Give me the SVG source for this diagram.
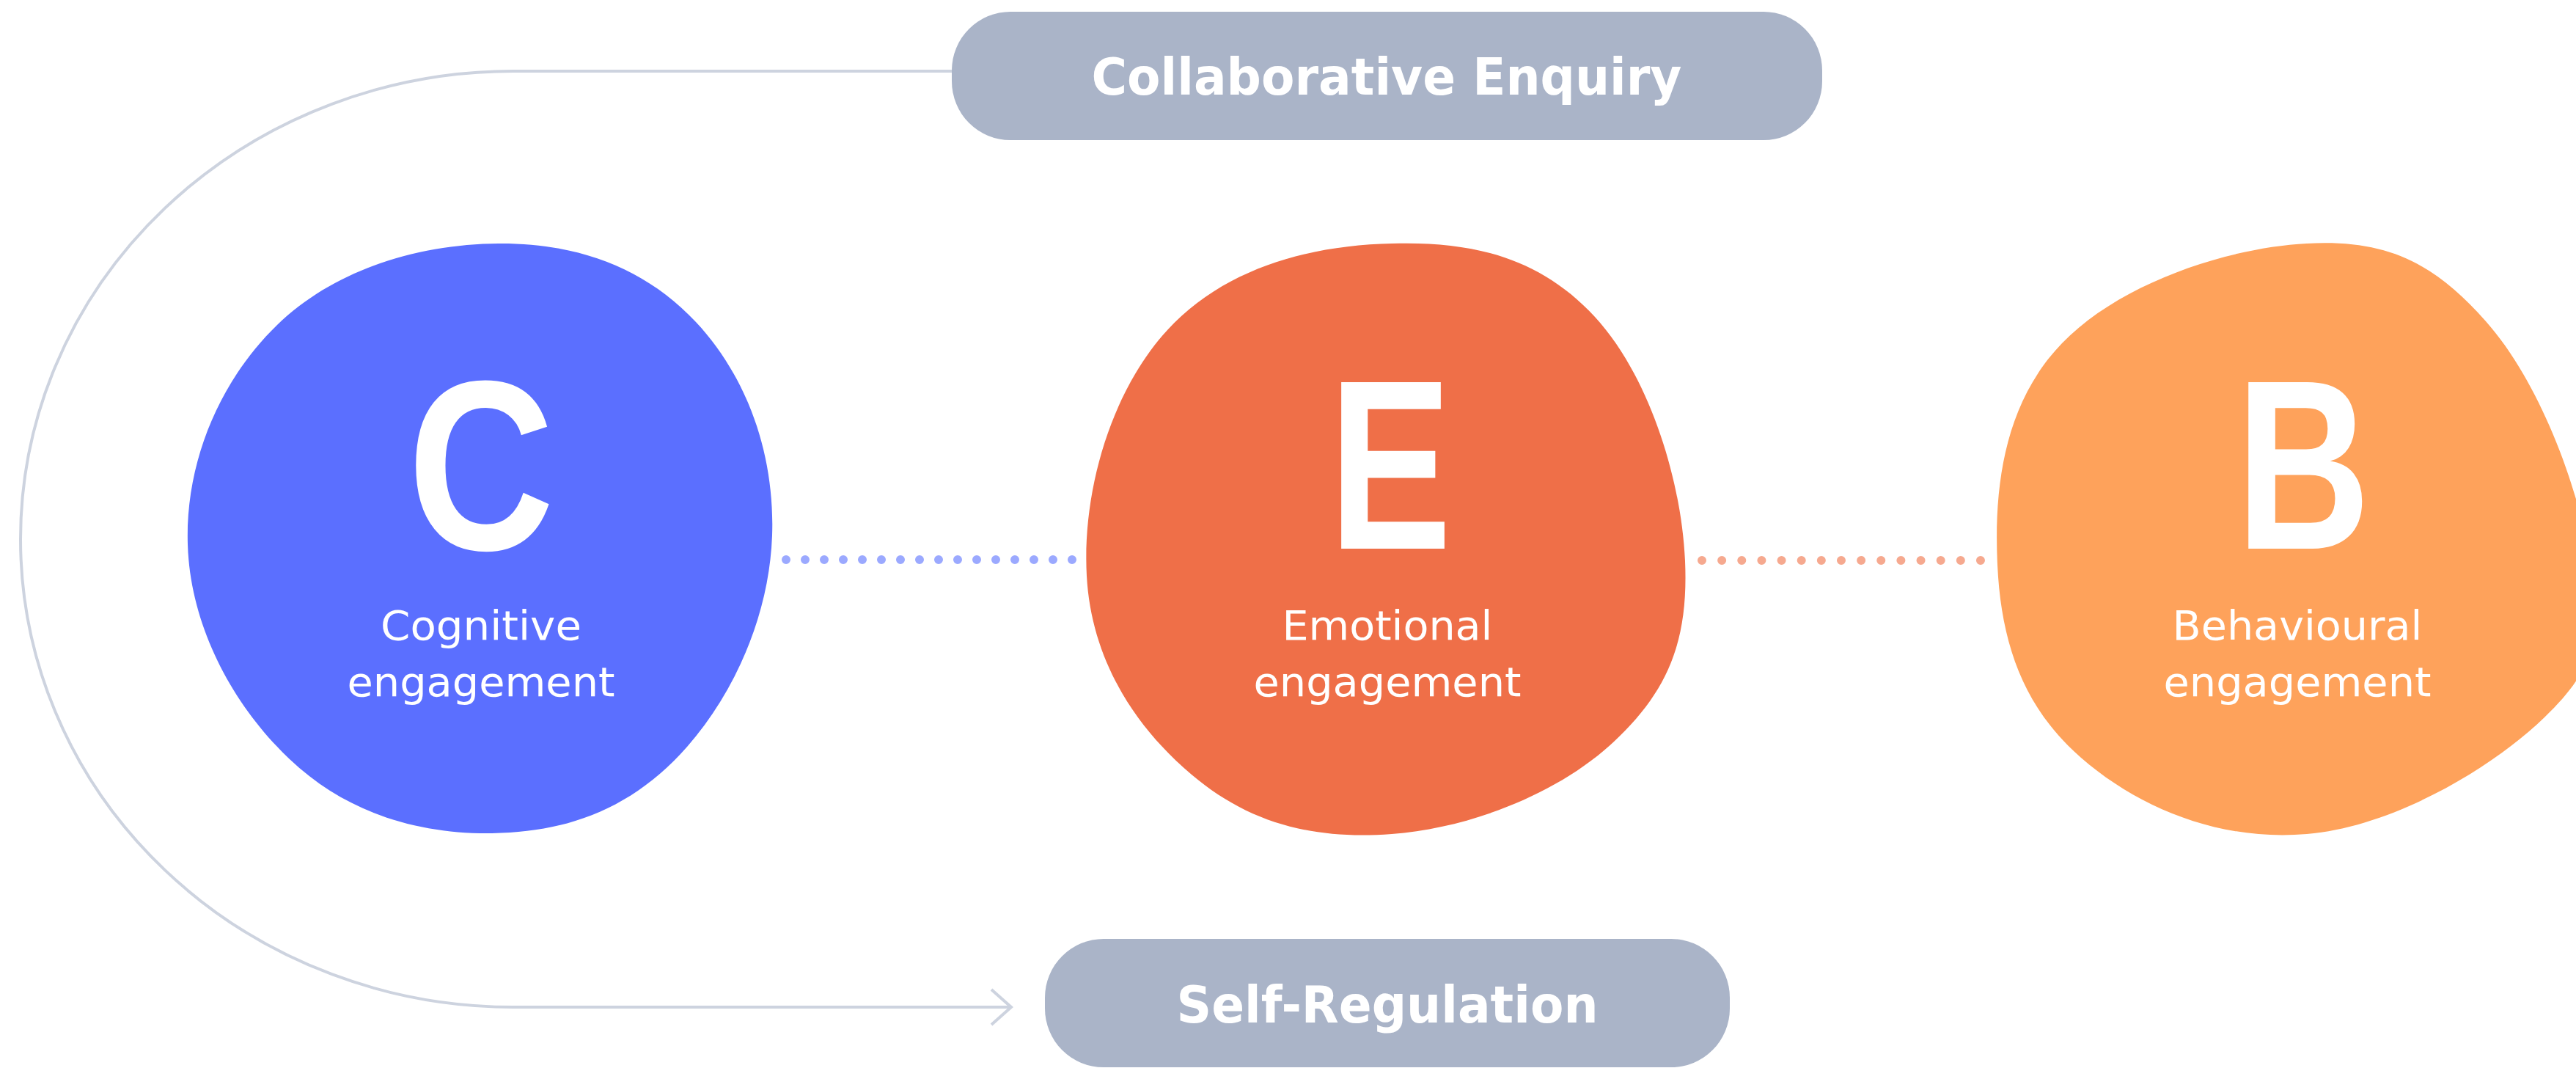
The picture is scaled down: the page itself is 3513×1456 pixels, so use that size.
<svg xmlns="http://www.w3.org/2000/svg" width="3513" height="1456" viewBox="0 0 3513 1456">
<style>
.box{fill:#AAB4C8}
.title{font-family:"DejaVu Sans",sans-serif;font-weight:bold;font-size:70px;fill:#FFFFFF;text-anchor:middle}
.big{font-family:"Liberation Sans",Arial,sans-serif;font-weight:bold;font-size:330px;fill:#FFFFFF;text-anchor:middle}
.lbl{font-family:"DejaVu Sans",sans-serif;font-size:56px;fill:#FFFFFF;text-anchor:middle}
.conn{fill:none;stroke:#CDD3DF;stroke-width:4}
</style>
<rect width="3513" height="1456" fill="#FFFFFF"/>
<g id="connectors">
<path class="conn" d="M1298,97 L700,97 A672,638 0 0 0 700,1373 L1378,1373"/>
<polyline class="conn" points="1352,1349 1379,1373 1352,1397"/>
<line x1="1072" y1="763" x2="1463" y2="763" stroke="#9BA9FF" stroke-width="12" stroke-linecap="round" stroke-dasharray="0 26"/>
<line x1="2321" y1="764" x2="2702" y2="764" stroke="#F6A98F" stroke-width="12" stroke-linecap="round" stroke-dasharray="0 27.14"/>
</g>
<g id="collaborative-enquiry">
<rect class="box" x="1298" y="16" width="1187" height="175" rx="80" ry="80"/>
<text class="title" x="1891" y="129" textLength="805" lengthAdjust="spacingAndGlyphs">Collaborative Enquiry</text>
</g>
<g id="self-regulation">
<rect class="box" x="1425" y="1280" width="934" height="175" rx="80" ry="80"/>
<text class="title" x="1892" y="1394" textLength="575" lengthAdjust="spacingAndGlyphs">Self-Regulation</text>
</g>
<g id="cognitive">
<path fill="#5B6FFF" d="M680,332 C787.1,331.3 879.1,364.4 949,439 C1018.9,513.6 1056.9,619.6 1053,730 C1049.1,840.4 999.6,951.9 928,1028 C856.4,1104.1 770.9,1134.7 671,1136 C571.1,1137.3 472.8,1108.9 395,1035 C317.2,961.1 259.2,853 256,742 C252.8,631 298.5,519.9 378,443 C457.5,366.1 572.9,332.8 680,332 Z"/>
<text class="big" transform="translate(656,749) scale(0.84,1)">C</text>
<text class="lbl" x="656" y="872" textLength="274" lengthAdjust="spacingAndGlyphs">Cognitive</text>
<text class="lbl" x="656" y="949" textLength="365" lengthAdjust="spacingAndGlyphs">engagement</text>
</g>
<g id="emotional">
<path fill="#EF6F48" d="M1898,332 C2007.3,328.6 2100,350.8 2175,432 C2250,513.2 2293.3,656.25 2298,765 C2302.7,873.75 2275,942.25 2200,1012 C2125,1081.75 2005.8,1128.75 1898,1137 C1790.2,1145.25 1703,1122 1625,1056 C1547,990 1488.2,898.6 1482,785 C1475.8,671.4 1514,534.9 1592,450 C1670,365.1 1786.8,334.25 1898,332 Z"/>
<text class="big" transform="translate(1896,748) scale(0.76,1)">E</text>
<text class="lbl" x="1892" y="872" textLength="287" lengthAdjust="spacingAndGlyphs">Emotional</text>
<text class="lbl" x="1892" y="949" textLength="365" lengthAdjust="spacingAndGlyphs">engagement</text>
</g>
<g id="behavioural">
<path fill="#FEA25B" d="M3146,332 C3254.4,326.4 3317.6,356.8 3390,438 C3462.4,519.2 3517,663.75 3532,765 C3547,866.25 3542.4,908.25 3470,978 C3397.6,1047.75 3264.5,1126.7 3146,1137 C3027.5,1147.3 2917.1,1101.8 2838,1033 C2758.9,964.2 2728.9,875.9 2724,770 C2719.1,664.1 2732.9,550.1 2812,468 C2891.1,385.9 3037.6,337.6 3146,332 Z"/>
<text class="big" transform="translate(3141,748) scale(0.77,1)">B</text>
<text class="lbl" x="3133" y="872" textLength="341" lengthAdjust="spacingAndGlyphs">Behavioural</text>
<text class="lbl" x="3133" y="949" textLength="365" lengthAdjust="spacingAndGlyphs">engagement</text>
</g>
</svg>
